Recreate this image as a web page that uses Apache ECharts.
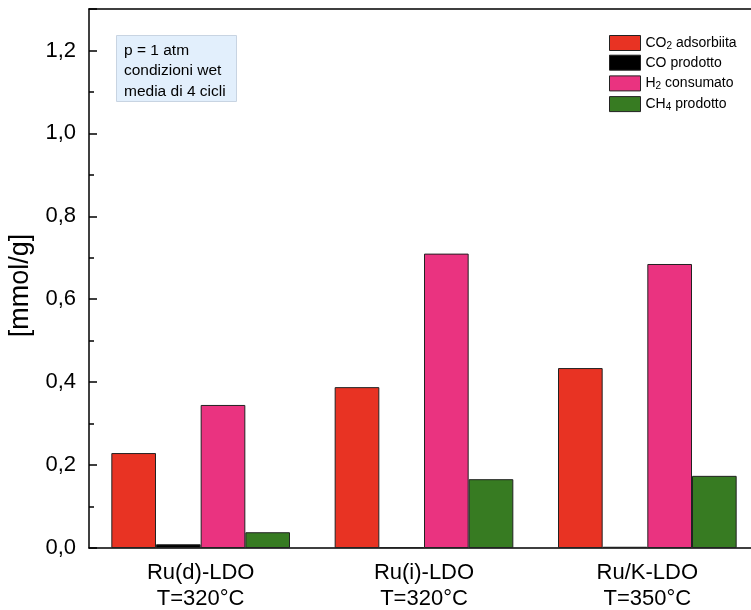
<!DOCTYPE html>
<html>
<head>
<meta charset="utf-8">
<script src="https://cdn.jsdelivr.net/npm/echarts@6/dist/echarts.min.js"></script>
<style>
html,body{margin:0;padding:0;background:#fff;}
#chart{width:751px;height:610px;}
</style>
</head>
<body>
<div id="chart"></div>
<script>
var categories = ['Ru(d)-LDO\nT=320°C', 'Ru(i)-LDO\nT=320°C', 'Ru/K-LDO\nT=350°C'];
var co2Adsorbita = [0.229, 0.388, 0.434];
var coProdotto = [0.009, 0.002, 0.003];
var h2Consumato = [0.345, 0.710, 0.685];
var ch4Prodotto = [0.038, 0.166, 0.174];
var seriesNames = ['CO2 adsorbiita', 'CO prodotto', 'H2 consumato', 'CH4 prodotto'];
var legendRich = {
  'CO2 adsorbiita': '{a|CO}{s|2}{a| adsorbiita}',
  'CO prodotto': '{a|CO prodotto}',
  'H2 consumato': '{a|H}{s|2}{a| consumato}',
  'CH4 prodotto': '{a|CH}{s|4}{a| prodotto}'
};
var annotation = 'p = 1 atm\ncondizioni wet\nmedia di 4 cicli';

var chart = echarts.init(document.getElementById('chart'), null, {renderer: 'canvas'});
var font = 'Arial, "Liberation Sans", sans-serif';
function bar(name, data, color) {
  return {
    name: name, type: 'bar', data: data, barGap: '0%', barCategoryGap: '20%',
    itemStyle: {color: color, borderColor: '#222', borderWidth: 1}
  };
}
chart.setOption({
  animation: false,
  backgroundColor: '#fff',
  grid: {left: 89, right: -8, top: 9, bottom: 62, outerBoundsMode: 'none', containLabel: false, show: false},
  title: {
    text: annotation, left: 116, top: 35,
    backgroundColor: '#e2effc', borderColor: '#c8d4e2', borderWidth: 1,
    padding: [5, 11, 0, 8],
    textStyle: {fontFamily: font, fontSize: 15.5, fontWeight: 'normal', color: '#000', lineHeight: 20.5}
  },
  legend: {
    orient: 'vertical', left: 609, top: 34, padding: 0, itemWidth: 31, itemHeight: 15, itemGap: 3.7,
    icon: 'rect',
    data: seriesNames,
    formatter: function (n) { return legendRich[n]; },
    textStyle: {
      fontFamily: font, color: '#000',
      rich: {a: {fontSize: 14, lineHeight: 16, fontFamily: font, color: '#000'},
             s: {fontSize: 10, lineHeight: 16, fontFamily: font, color: '#000', verticalAlign: 'bottom', padding: [7, 0, 0, 0]}}
    },
    itemStyle: {borderColor: '#222', borderWidth: 1}
  },
  xAxis: [{
    type: 'category', data: categories,
    axisLine: {lineStyle: {color: '#000', width: 1.5}},
    axisTick: {show: false},
    axisLabel: {fontFamily: font, fontSize: 22, color: '#000', lineHeight: 26, margin: 12}
  }, {
    type: 'category', data: categories, position: 'top',
    axisLine: {show: true, lineStyle: {color: '#000', width: 1.5}},
    axisTick: {show: false}, axisLabel: {show: false}
  }],
  yAxis: {
    type: 'value', min: 0, max: 1.3, interval: 0.2,
    name: '[mmol/g]', nameLocation: 'middle', nameGap: 52,
    nameTextStyle: {fontFamily: font, fontSize: 27, color: '#000', padding: [0, 0, 0, -14]},
    axisLine: {show: true, lineStyle: {color: '#000', width: 1.5}},
    axisTick: {show: true, inside: true, length: 8, lineStyle: {color: '#000', width: 1.5}},
    minorTick: {show: true, splitNumber: 2, length: 5, lineStyle: {color: '#000', width: 1.5}},
    splitLine: {show: false},
    axisLabel: {
      fontFamily: font, fontSize: 22, color: '#000', margin: 13, showMaxLabel: false,
      formatter: function (v) { return v.toFixed(1).replace('.', ','); }
    }
  },
  series: [
    bar(seriesNames[0], co2Adsorbita, '#e83323'),
    bar(seriesNames[1], coProdotto, '#000000'),
    bar(seriesNames[2], h2Consumato, '#ea3380'),
    bar(seriesNames[3], ch4Prodotto, '#377b22')
  ]
});
</script>
</body>
</html>
